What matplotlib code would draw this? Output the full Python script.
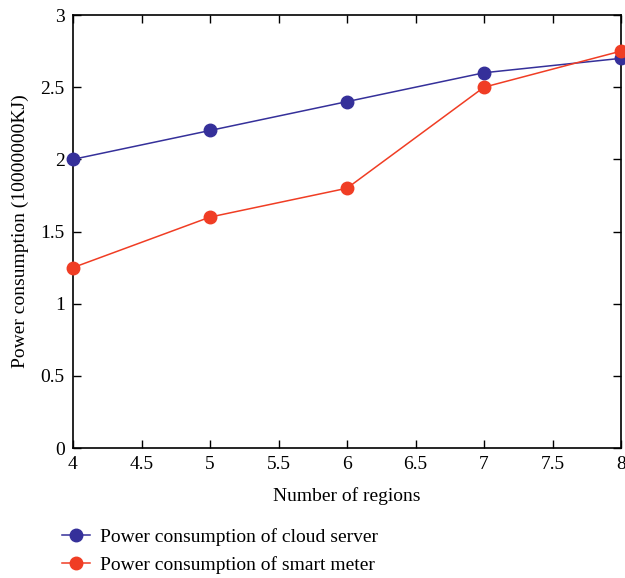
import matplotlib
matplotlib.use("Agg")
import matplotlib.pyplot as plt

regions = [4, 5, 6, 7, 8]
cloud_server = [2.0, 2.2, 2.4, 2.6, 2.7]
smart_meter = [1.25, 1.6, 1.8, 2.5, 2.75]
x_ticks = [4, 4.5, 5, 5.5, 6, 6.5, 7, 7.5, 8]
y_ticks = [0, 0.5, 1, 1.5, 2, 2.5, 3]

plt.rcParams['font.family'] = ['Liberation Serif', 'DejaVu Serif']

blue = '#35309a'
red = '#f03d24'

fig = plt.figure(figsize=(6.25, 5.78), dpi=100)
ax = fig.add_axes([0.1168, 0.2249, 0.8768, 0.7491])

l1, = ax.plot(regions, cloud_server, color=blue, lw=1.1, marker='o', ms=9,
              label='Power consumption of cloud server', clip_on=False, zorder=3)
l2, = ax.plot(regions, smart_meter, color=red, lw=1.1, marker='o', ms=9,
              label='Power consumption of smart meter', clip_on=False, zorder=3)

ax.set_xlim(4, 8)
ax.set_ylim(0, 3)
ax.set_xticks(x_ticks)
ax.set_xticklabels(['4', '4.5', '5', '5.5', '6', '6.5', '7', '7.5', '8'])
ax.set_yticks(y_ticks)
ax.set_yticklabels(['0', '0.5', '1', '1.5', '2', '2.5', '3'])
ax.tick_params(direction='in', top=True, right=True, length=6, width=1,
               labelsize=14, pad=6)
for s in ax.spines.values():
    s.set_linewidth(1.2)

ax.set_xlabel('Number of regions', fontsize=14, labelpad=10)
ax.set_ylabel('Power consumption (10000000KJ)', fontsize=14, labelpad=8)

fig.legend(handles=[l1, l2], loc='upper left', bbox_to_anchor=(0.099, 0.087),
           frameon=False, fontsize=14, handlelength=1.45, handletextpad=0.5,
           labelspacing=0.55, borderaxespad=0, borderpad=0)

fig.savefig('out.png', dpi=100)
